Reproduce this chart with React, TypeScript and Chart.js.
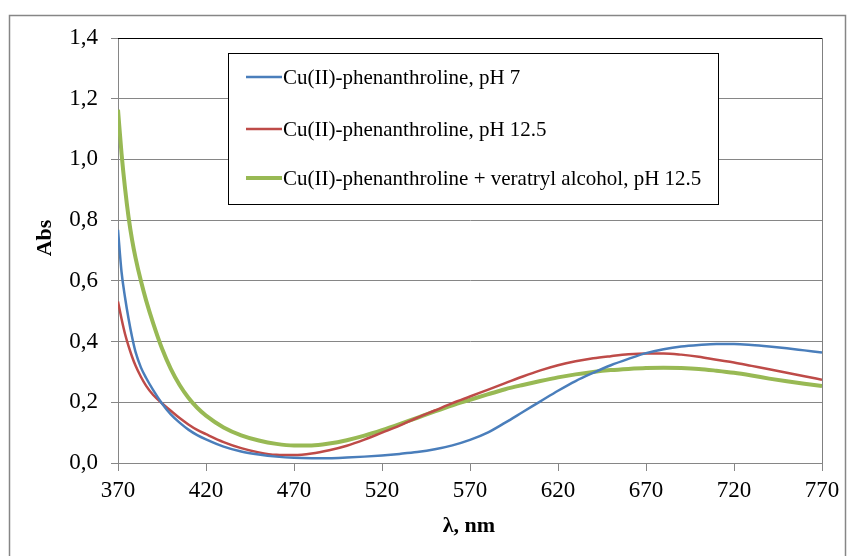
import { useEffect, useRef } from "react";
import { Chart, registerables } from "chart.js";

Chart.register(...registerables);

const wavelengths = [
  370, 372, 374, 376, 378, 380, 383, 386, 390, 395, 400, 405, 410, 415, 420,
  430, 440, 450, 460, 470, 480, 490, 500, 510, 520, 530, 540, 550, 560, 570,
  580, 590, 600, 610, 620, 630, 640, 650, 660, 670, 680, 690, 700, 710, 720,
  730, 740, 750, 760, 770,
];

const absPh7 = [
  0.768, 0.63, 0.545, 0.475, 0.415, 0.365, 0.315, 0.28, 0.24, 0.196, 0.16, 0.133, 0.11, 0.092, 0.078,
  0.054, 0.038, 0.028, 0.021, 0.017, 0.016, 0.016, 0.018, 0.021, 0.025, 0.03, 0.036, 0.045, 0.058, 0.076,
  0.1, 0.133, 0.168, 0.203, 0.238, 0.27, 0.297, 0.322, 0.343, 0.362, 0.375, 0.384, 0.389, 0.392, 0.392,
  0.389, 0.384, 0.378, 0.371, 0.364,
];

const absPh125 = [
  0.532, 0.475, 0.425, 0.385, 0.35, 0.32, 0.284, 0.254, 0.224, 0.197, 0.172, 0.148, 0.127, 0.109, 0.095,
  0.069, 0.049, 0.035, 0.027, 0.026, 0.031, 0.042, 0.057, 0.077, 0.1, 0.123, 0.149, 0.173, 0.197, 0.219,
  0.241, 0.263, 0.285, 0.305, 0.322, 0.335, 0.345, 0.352, 0.358, 0.361, 0.361, 0.357, 0.35, 0.34, 0.331,
  0.32, 0.309, 0.297, 0.286, 0.274,
];

const absVeratryl = [
  1.164, 1.02, 0.905, 0.81, 0.735, 0.675, 0.6, 0.535, 0.46, 0.377, 0.31, 0.257, 0.215, 0.182, 0.156,
  0.117, 0.091, 0.074, 0.063, 0.058, 0.058, 0.064, 0.075, 0.09, 0.108, 0.128, 0.149, 0.17, 0.19, 0.208,
  0.226, 0.243, 0.257, 0.27, 0.282, 0.292, 0.3, 0.306, 0.31, 0.313, 0.314, 0.313, 0.31, 0.304, 0.297,
  0.288, 0.278, 0.269, 0.261, 0.254,
];

const seriesLabels = [
  "Cu(II)-phenanthroline, pH 7",
  "Cu(II)-phenanthroline, pH 12.5",
  "Cu(II)-phenanthroline + veratryl alcohol, pH 12.5",
];
const seriesColors = ["#4A7EBB", "#BE4B48", "#98B954"];
const seriesWidths = [2.5, 2.5, 4];

const xTitle = "λ, nm";
const yTitle = "Abs";

const FONT = "'Liberation Serif', 'Times New Roman', serif";

export default function App() {
  const ref = useRef<HTMLCanvasElement>(null);

  useEffect(() => {
    document.body.style.margin = "0";
    const canvas = ref.current;
    if (!canvas) return;
    const toPts = (ys: number[]) => wavelengths.map((x, i) => ({ x, y: ys[i] }));
    const allSeries = [absPh7, absPh125, absVeratryl];

    const decor = {
      id: "decor",
      beforeDraw(chart: any) {
        const c = chart.ctx;
        c.save();
        c.fillStyle = "#ffffff";
        c.fillRect(0, 0, chart.width, chart.height);
        c.strokeStyle = "#868686";
        c.lineWidth = 1.5;
        c.strokeRect(9.5, 15.5, 836, 560);
        c.restore();
      },
      afterDraw(chart: any) {
        const c = chart.ctx;
        const a = chart.chartArea;
        c.save();
        c.strokeStyle = "#000000";
        c.lineWidth = 1;
        c.beginPath();
        c.moveTo(a.left, Math.round(a.top) + 0.5);
        c.lineTo(a.right, Math.round(a.top) + 0.5);
        c.stroke();
        c.strokeStyle = "#808080";
        c.beginPath();
        c.moveTo(Math.round(a.right) + 0.5, a.top);
        c.lineTo(Math.round(a.right) + 0.5, a.bottom);
        c.stroke();

        const lx = 228, ly = 53, lw = 490, lh = 151;
        c.fillStyle = "#ffffff";
        c.fillRect(lx, ly, lw, lh);
        c.strokeStyle = "#000000";
        c.lineWidth = 1;
        c.strokeRect(lx + 0.5, ly + 0.5, lw, lh);
        const rows = [77, 129, 178];
        c.font = `21px ${FONT}`;
        c.textBaseline = "middle";
        c.textAlign = "left";
        seriesLabels.forEach((lab, i) => {
          c.strokeStyle = seriesColors[i];
          c.lineWidth = seriesWidths[i];
          c.beginPath();
          c.moveTo(246, rows[i]);
          c.lineTo(282, rows[i]);
          c.stroke();
          c.fillStyle = "#000000";
          c.fillText(lab, 283, rows[i] + 1);
        });

        c.fillStyle = "#000000";
        c.font = `bold 22px ${FONT}`;
        c.textAlign = "center";
        c.textBaseline = "middle";
        c.fillText(xTitle, 469, 526);
        c.save();
        c.translate(45, 238);
        c.rotate(-Math.PI / 2);
        c.fillText(yTitle, 0, 0);
        c.restore();
        c.restore();
      },
    };

    const chart = new Chart(canvas, {
      type: "line",
      data: {
        datasets: allSeries.map((ys, i) => ({
          label: seriesLabels[i],
          data: toPts(ys),
          borderColor: seriesColors[i],
          backgroundColor: seriesColors[i],
          borderWidth: seriesWidths[i],
          pointRadius: 0,
          fill: false,
          cubicInterpolationMode: "monotone" as const,
        })),
      },
      options: {
        responsive: false,
        animation: false,
        layout: { padding: { top: 38, right: 28, left: 0, bottom: 0 } },
        plugins: {
          legend: { display: false },
          tooltip: { enabled: false },
          title: { display: false },
        },
        scales: {
          x: {
            type: "linear",
            min: 370,
            max: 770,
            afterFit: (s: any) => {
              s.height = 93;
            },
            ticks: {
              stepSize: 50,
              color: "#000000",
              font: { family: FONT, size: 23 },
              padding: 6,
              maxRotation: 0,
              autoSkip: false,
            },
            grid: {
              drawOnChartArea: false,
              drawTicks: true,
              tickLength: 8,
              color: "#868686",
            },
            border: { display: true, color: "#868686", width: 1 },
          },
          y: {
            type: "linear",
            min: 0,
            max: 1.4,
            afterFit: (s: any) => {
              s.width = 118;
            },
            ticks: {
              stepSize: 0.2,
              color: "#000000",
              font: { family: FONT, size: 23 },
              padding: 13,
              callback: (v: any) => Number(v).toFixed(1).replace(".", ","),
            },
            grid: {
              drawTicks: true,
              tickLength: 7,
              color: "#868686",
            },
            border: { display: true, color: "#868686", width: 1 },
          },
        },
      },
      plugins: [decor],
    });
    return () => chart.destroy();
  }, []);

  return (
    <div style={{ width: 850, height: 556 }}>
      <canvas ref={ref} width={850} height={556} style={{ display: "block" }} />
    </div>
  );
}
